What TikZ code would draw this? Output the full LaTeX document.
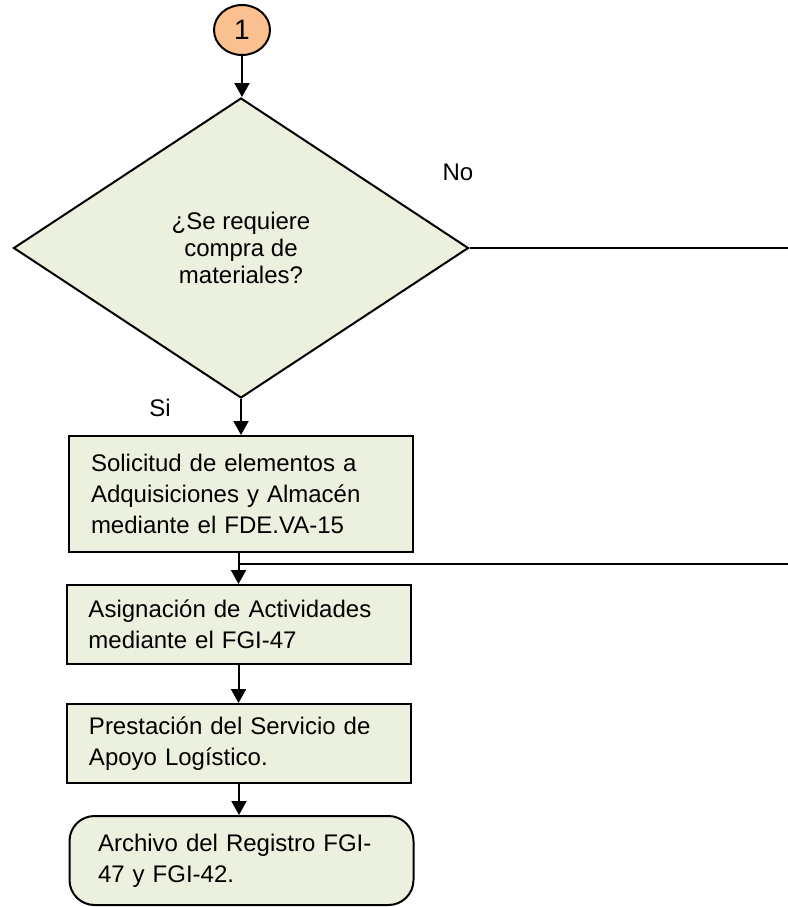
\documentclass[tikz,border=0pt]{standalone}
\usepackage{fontspec}
\setmainfont{Liberation Sans}
\usepackage{tikz}
\usetikzlibrary{arrows.meta, shapes.geometric, calc}

\definecolor{verdeclaro}{HTML}{EBF1DE}
\definecolor{durazno}{HTML}{FAC090}

\begin{document}
\begin{tikzpicture} [x=0.5pt, y=-0.5pt, line width=1pt,
	nodes={font=\fontsize{12}{15.5}\selectfont},
	flecha/.style={-{Triangle[width=7.5pt, length=7pt]}},
	caja/.style={draw, fill=verdeclaro, rectangle, align=left,
		text width=150pt, inner xsep=11pt, inner ysep=0pt, minimum width=172pt}]
	%    fondo blanco con el tamano de la figura
	\useasboundingbox (0,0) rectangle (788,907);
	
	\node[ellipse, draw, fill=durazno, minimum width=28pt, minimum height=25pt, inner sep=0pt,
	font=\fontsize{14}{16}\selectfont] (c1) at (242,30) {1};
	
	\node[diamond, draw, fill=verdeclaro, minimum width=227.5pt, minimum height=150pt,
	inner sep=0pt, align=center, font=\fontsize{12}{13.5}\selectfont] (dec) at (241,248)
	{¿Se requiere\\compra de\\materiales?};
	
	\node[caja, minimum height=58pt] (sol) at (241,494)
	{Solicitud de elementos a\\Adquisiciones y Almacén\\mediante el FDE.VA-15};
	\node[caja, minimum height=39.5pt] (asig) at (238.5,624.5)
	{Asignación de Actividades\\mediante el FGI-47};
	\node[caja, minimum height=39.5pt] (pres) at (239,743.5)
	{Prestación del Servicio de\\Apoyo Logístico.};
	\node[caja, rounded corners=12.5pt, text width=143.5pt, inner xsep=14pt, minimum height=44.5pt] (arch) at (241.5,860.5)
	{Archivo del Registro FGI-\\47 y FGI-42.};
	
	% etiquetas de la decision
	\node (no) at (458,172) {No};
	\node (si) at (160,408) {Si};
	
	% salidas hacia la derecha
	\coordinate (salida) at (788,249);
	\coordinate (retorno) at (788,564);
	
	\draw[flecha] (c1.south) -- (c1.south |- dec.north);
	\draw (dec.east) -- (dec.east -| salida);
	\draw[flecha] (dec.south) -- (dec.south |- sol.north);
	\draw[flecha] (asig.north |- sol.south) -- (asig.north);
	\draw (retorno) -- (retorno -| asig.north);
	\draw[flecha] (asig.south) -- (asig.south |- pres.north);
	\draw[flecha] (pres.south) -- (pres.south |- arch.north);
	
\end{tikzpicture}
\end{document}
